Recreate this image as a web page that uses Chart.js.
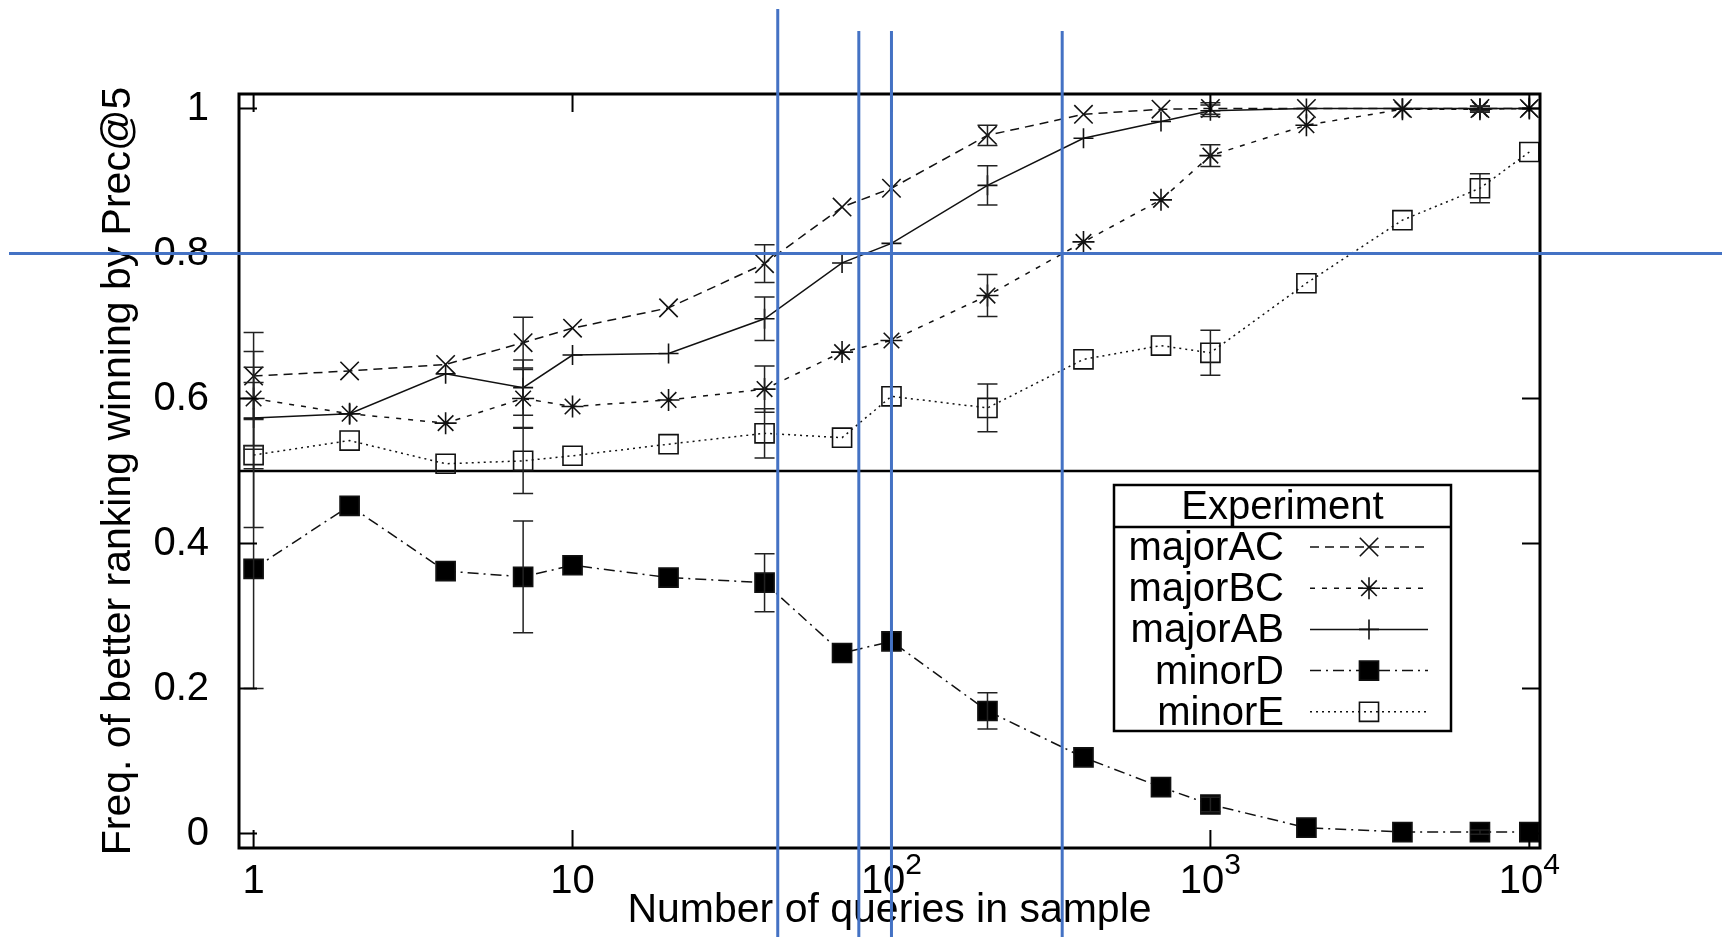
<!DOCTYPE html>
<html>
<head>
<meta charset="utf-8">
<script src="https://cdn.jsdelivr.net/npm/chart.js@4.4.1/dist/chart.umd.min.js"></script>
<style>
  html, body { margin: 0; padding: 0; background: #fff; }
  canvas { display: block; }
</style>
</head>
<body>
<canvas id="chart" width="1729" height="937"></canvas>
<script>
// sample sizes and win frequencies
const sampleSizes = [1, 2, 4, 7, 10, 20, 40, 70, 100, 200, 400, 700, 1000, 2000, 4000, 7000, 10000];

const majorAC = [0.631, 0.638, 0.647, 0.677, 0.697, 0.725, 0.786, 0.864, 0.890, 0.963, 0.992, 0.999, 1.0, 1.0, 1.0, 1.0, 1.0];
const majorBC = [0.600, 0.579, 0.566, 0.600, 0.589, 0.598, 0.613, 0.664, 0.680, 0.742, 0.816, 0.874, 0.935, 0.977, 0.999, 0.999, 1.0];
const majorAB = [0.573, 0.579, 0.634, 0.615, 0.660, 0.662, 0.710, 0.787, 0.814, 0.894, 0.959, 0.982, 0.997, 1.0, 1.0, 1.0, 1.0];
const minorD  = [0.365, 0.452, 0.362, 0.354, 0.370, 0.353, 0.346, 0.249, 0.265, 0.169, 0.105, 0.064, 0.040, 0.008, 0.002, 0.002, 0.002];
const minorE  = [0.522, 0.542, 0.510, 0.514, 0.521, 0.537, 0.552, 0.546, 0.603, 0.587, 0.654, 0.673, 0.663, 0.759, 0.846, 0.890, 0.940];

// half-widths of the error bars (null = no bar drawn)
const errAC = [0.060, null, null, 0.035, null, null, 0.026, null, null, 0.014, null, null, 0.008, null, null, 0.003, null];
const errBC = [0.065, null, null, 0.040, null, null, 0.032, null, null, 0.029, null, null, 0.015, null, null, 0.004, null];
const errAB = [0.070, null, null, 0.038, null, null, 0.030, null, null, 0.027, null, null, 0.008, null, null, 0.003, null];
const errD  = [0.165, null, null, 0.077, null, null, 0.040, null, null, 0.025, null, null, 0.010, null, null, 0.003, null];
const errE  = [0.100, null, null, 0.045, null, null, 0.034, null, null, 0.033, null, null, 0.031, null, null, 0.020, null];

const xTicks = [1, 10, 100, 1000, 10000];
const xTickBase = ['1', '10', '10', '10', '10'];
const xTickExp = ['', '', '2', '3', '4'];
const yTicks = [0, 0.2, 0.4, 0.6, 0.8, 1];
const yTickLabels = ['0', '0.2', '0.4', '0.6', '0.8', '1'];

const chanceLevel = 0.5;
// blue guide lines drawn over the figure
const guideX = [44, 79, 100, 343];
const guideY = [0.8];

const FONT = "'Liberation Sans', Arial, Helvetica, sans-serif";
const INK = '#111';

function pts(vals) { return sampleSizes.map((x, i) => ({ x: x, y: vals[i] })); }

function series(label, vals, errs, style, dash, radius, fill) {
  return {
    label: label,
    data: pts(vals),
    errors: errs,
    borderColor: INK,
    borderWidth: 1.5,
    borderDash: dash,
    pointStyle: style,
    pointRadius: radius,
    pointHoverRadius: radius,
    pointBorderWidth: 1.6,
    pointBorderColor: INK,
    pointBackgroundColor: fill,
    fill: false,
    tension: 0
  };
}

const datasets = [
  series('majorAC', majorAC, errAC, 'crossRot', [9, 6], 13, 'rgba(0,0,0,0)'),
  series('majorBC', majorBC, errBC, 'star', [5, 7], 11, 'rgba(0,0,0,0)'),
  series('majorAB', majorAB, errAB, 'cross', [], 10, 'rgba(0,0,0,0)'),
  series('minorD', minorD, errD, 'rect', [11, 5, 2, 5], 13.5, '#000'),
  series('minorE', minorE, errE, 'rect', [2, 4], 13.5, 'rgba(0,0,0,0)'),
  {
    label: 'chance',
    reference: true,
    data: [{ x: 0.9, y: chanceLevel }, { x: 10800, y: chanceLevel }],
    borderColor: '#000',
    borderWidth: 2.5,
    pointRadius: 0,
    fill: false
  }
];

const whiteBg = {
  id: 'whiteBg',
  beforeDraw(chart) {
    const ctx = chart.ctx;
    ctx.save();
    ctx.fillStyle = '#fff';
    ctx.fillRect(0, 0, chart.width, chart.height);
    ctx.restore();
  }
};

const errorBars = {
  id: 'errorBars',
  afterDatasetsDraw(chart) {
    const { ctx, scales: { x, y } } = chart;
    ctx.save();
    ctx.strokeStyle = '#222';
    ctx.lineWidth = 1.5;
    chart.data.datasets.forEach(ds => {
      if (!ds.errors) return;
      ds.errors.forEach((e, i) => {
        if (e == null) return;
        const p = ds.data[i];
        const px = x.getPixelForValue(p.x);
        const lo = y.getPixelForValue(p.y - e);
        const hi = y.getPixelForValue(p.y + e);
        ctx.beginPath();
        ctx.moveTo(px, lo); ctx.lineTo(px, hi);
        ctx.moveTo(px - 10, lo); ctx.lineTo(px + 10, lo);
        ctx.moveTo(px - 10, hi); ctx.lineTo(px + 10, hi);
        ctx.stroke();
      });
    });
    ctx.restore();
  }
};

// gnuplot-like frame with inward ticks on all four sides
const frame = {
  id: 'frame',
  afterDatasetsDraw(chart) {
    const { ctx, chartArea: a, scales: { x, y } } = chart;
    ctx.save();
    ctx.strokeStyle = '#000';
    ctx.lineWidth = 2;
    ctx.beginPath();
    xTicks.forEach(v => {
      const px = x.getPixelForValue(v);
      ctx.moveTo(px, a.bottom); ctx.lineTo(px, a.bottom - 18);
      ctx.moveTo(px, a.top); ctx.lineTo(px, a.top + 18);
    });
    yTicks.forEach(v => {
      const py = y.getPixelForValue(v);
      ctx.moveTo(a.left, py); ctx.lineTo(a.left + 18, py);
      ctx.moveTo(a.right, py); ctx.lineTo(a.right - 18, py);
    });
    ctx.stroke();
    ctx.lineWidth = 3;
    ctx.strokeRect(a.left, a.top, a.right - a.left, a.bottom - a.top);
    ctx.restore();
  }
};

// x tick labels with real superscript exponents (10^2 etc.)
const powerLabels = {
  id: 'powerLabels',
  afterDraw(chart, args, o) {
    const { ctx, scales: { x } } = chart;
    ctx.save();
    ctx.fillStyle = '#000';
    ctx.textAlign = 'left';
    ctx.textBaseline = 'alphabetic';
    xTicks.forEach((v, i) => {
      const px = x.getPixelForValue(v);
      ctx.font = o.size + 'px ' + FONT;
      const wb = ctx.measureText(xTickBase[i]).width;
      ctx.font = o.expSize + 'px ' + FONT;
      const we = xTickExp[i] ? ctx.measureText(xTickExp[i]).width : 0;
      const x0 = px - (wb + we) / 2;
      ctx.font = o.size + 'px ' + FONT;
      ctx.fillText(xTickBase[i], x0, o.baseline);
      if (xTickExp[i]) {
        ctx.font = o.expSize + 'px ' + FONT;
        ctx.fillText(xTickExp[i], x0 + wb, o.baseline - o.raise);
      }
    });
    ctx.restore();
  }
};

function drawMark(ctx, ds, cx, cy) {
  const r = ds.pointRadius;
  ctx.save();
  ctx.setLineDash([]);
  ctx.lineWidth = ds.pointBorderWidth;
  ctx.strokeStyle = ds.pointBorderColor;
  ctx.fillStyle = ds.pointBackgroundColor;
  ctx.beginPath();
  const d = r * Math.SQRT1_2;
  if (ds.pointStyle === 'rect') {
    ctx.rect(cx - d, cy - d, 2 * d, 2 * d);
    ctx.fill();
  } else {
    if (ds.pointStyle === 'cross' || ds.pointStyle === 'star') {
      ctx.moveTo(cx - r, cy); ctx.lineTo(cx + r, cy);
      ctx.moveTo(cx, cy - r); ctx.lineTo(cx, cy + r);
    }
    if (ds.pointStyle === 'crossRot' || ds.pointStyle === 'star') {
      ctx.moveTo(cx - d, cy - d); ctx.lineTo(cx + d, cy + d);
      ctx.moveTo(cx - d, cy + d); ctx.lineTo(cx + d, cy - d);
    }
  }
  ctx.stroke();
  ctx.restore();
}

// boxed key in the gnuplot layout: label left, sample line right
const keyBox = {
  id: 'keyBox',
  afterDatasetsDraw(chart, args, o) {
    const ctx = chart.ctx;
    ctx.save();
    ctx.fillStyle = '#fff';
    ctx.fillRect(o.left, o.top, o.right - o.left, o.bottom - o.top);
    ctx.strokeStyle = '#000';
    ctx.lineWidth = 2.5;
    ctx.strokeRect(o.left, o.top, o.right - o.left, o.bottom - o.top);
    ctx.beginPath();
    ctx.moveTo(o.left, o.split); ctx.lineTo(o.right, o.split);
    ctx.stroke();
    ctx.fillStyle = '#000';
    ctx.font = '40px ' + FONT;
    ctx.textBaseline = 'middle';
    ctx.textAlign = 'center';
    ctx.fillText(o.title, (o.left + o.right) / 2, (o.top + o.split) / 2 + 2);
    ctx.textAlign = 'right';
    const list = chart.data.datasets.filter(d => !d.reference);
    list.forEach((ds, i) => {
      const cy = o.firstRow + i * o.rowGap;
      ctx.fillStyle = '#000';
      ctx.fillText(ds.label, o.textRight, cy + 2);
      ctx.save();
      ctx.strokeStyle = INK;
      ctx.lineWidth = 1.5;
      ctx.setLineDash(ds.borderDash || []);
      ctx.beginPath();
      ctx.moveTo(o.lineFrom, cy); ctx.lineTo(o.lineTo, cy);
      ctx.stroke();
      ctx.restore();
      drawMark(ctx, ds, (o.lineFrom + o.lineTo) / 2, cy);
    });
    ctx.restore();
  }
};

const guides = {
  id: 'guides',
  afterDraw(chart, args, o) {
    const { ctx, scales: { x, y } } = chart;
    ctx.save();
    ctx.strokeStyle = '#4472C4';
    ctx.lineWidth = 3;
    ctx.beginPath();
    guideX.forEach((v, i) => {
      const px = x.getPixelForValue(v);
      ctx.moveTo(px, i === 0 ? o.firstTop : o.top);
      ctx.lineTo(px, chart.height);
    });
    guideY.forEach(v => {
      const py = y.getPixelForValue(v);
      ctx.moveTo(o.left, py); ctx.lineTo(o.right, py);
    });
    ctx.stroke();
    ctx.restore();
  }
};

new Chart(document.getElementById('chart').getContext('2d'), {
  type: 'line',
  data: { datasets: datasets },
  plugins: [whiteBg, errorBars, frame, keyBox, powerLabels, guides],
  options: {
    responsive: false,
    animation: false,
    devicePixelRatio: 1,
    layout: { padding: { top: 94, right: 189, left: 0, bottom: 0 } },
    plugins: {
      legend: { display: false },
      tooltip: { enabled: false },
      keyBox: {
        left: 1114, right: 1451, top: 485, bottom: 731, split: 527,
        title: 'Experiment', firstRow: 547, rowGap: 41.2,
        textRight: 1284, lineFrom: 1310, lineTo: 1428
      },
      powerLabels: { size: 40, expSize: 30, baseline: 893, raise: 19 },
      guides: { firstTop: 9, top: 31, left: 9, right: 1722 }
    },
    scales: {
      x: {
        type: 'logarithmic',
        min: 0.9,
        max: 10800,
        afterBuildTicks: s => { s.ticks = xTicks.map(v => ({ value: v })); },
        afterFit: s => { s.height = 89; },
        grid: { display: false, drawTicks: false },
        border: { display: false },
        ticks: { display: false },
        title: {
          display: true,
          text: 'Number of queries in sample',
          color: '#000',
          font: { family: FONT, size: 41 },
          padding: { top: 0, bottom: 2 }
        }
      },
      y: {
        type: 'linear',
        min: -0.02,
        max: 1.02,
        afterBuildTicks: s => { s.ticks = yTicks.map(v => ({ value: v })); },
        afterFit: s => { s.width = 239; },
        grid: { display: false, drawTicks: false },
        border: { display: false },
        ticks: {
          padding: 30,
          color: '#000',
          font: { family: FONT, size: 40 },
          callback: (v) => yTickLabels[yTicks.indexOf(v)]
        },
        title: {
          display: true,
          text: 'Freq. of better ranking winning by Prec@5',
          color: '#000',
          font: { family: FONT, size: 41 },
          padding: { top: 94, bottom: 0 }
        }
      }
    }
  }
});
</script>
</body>
</html>
